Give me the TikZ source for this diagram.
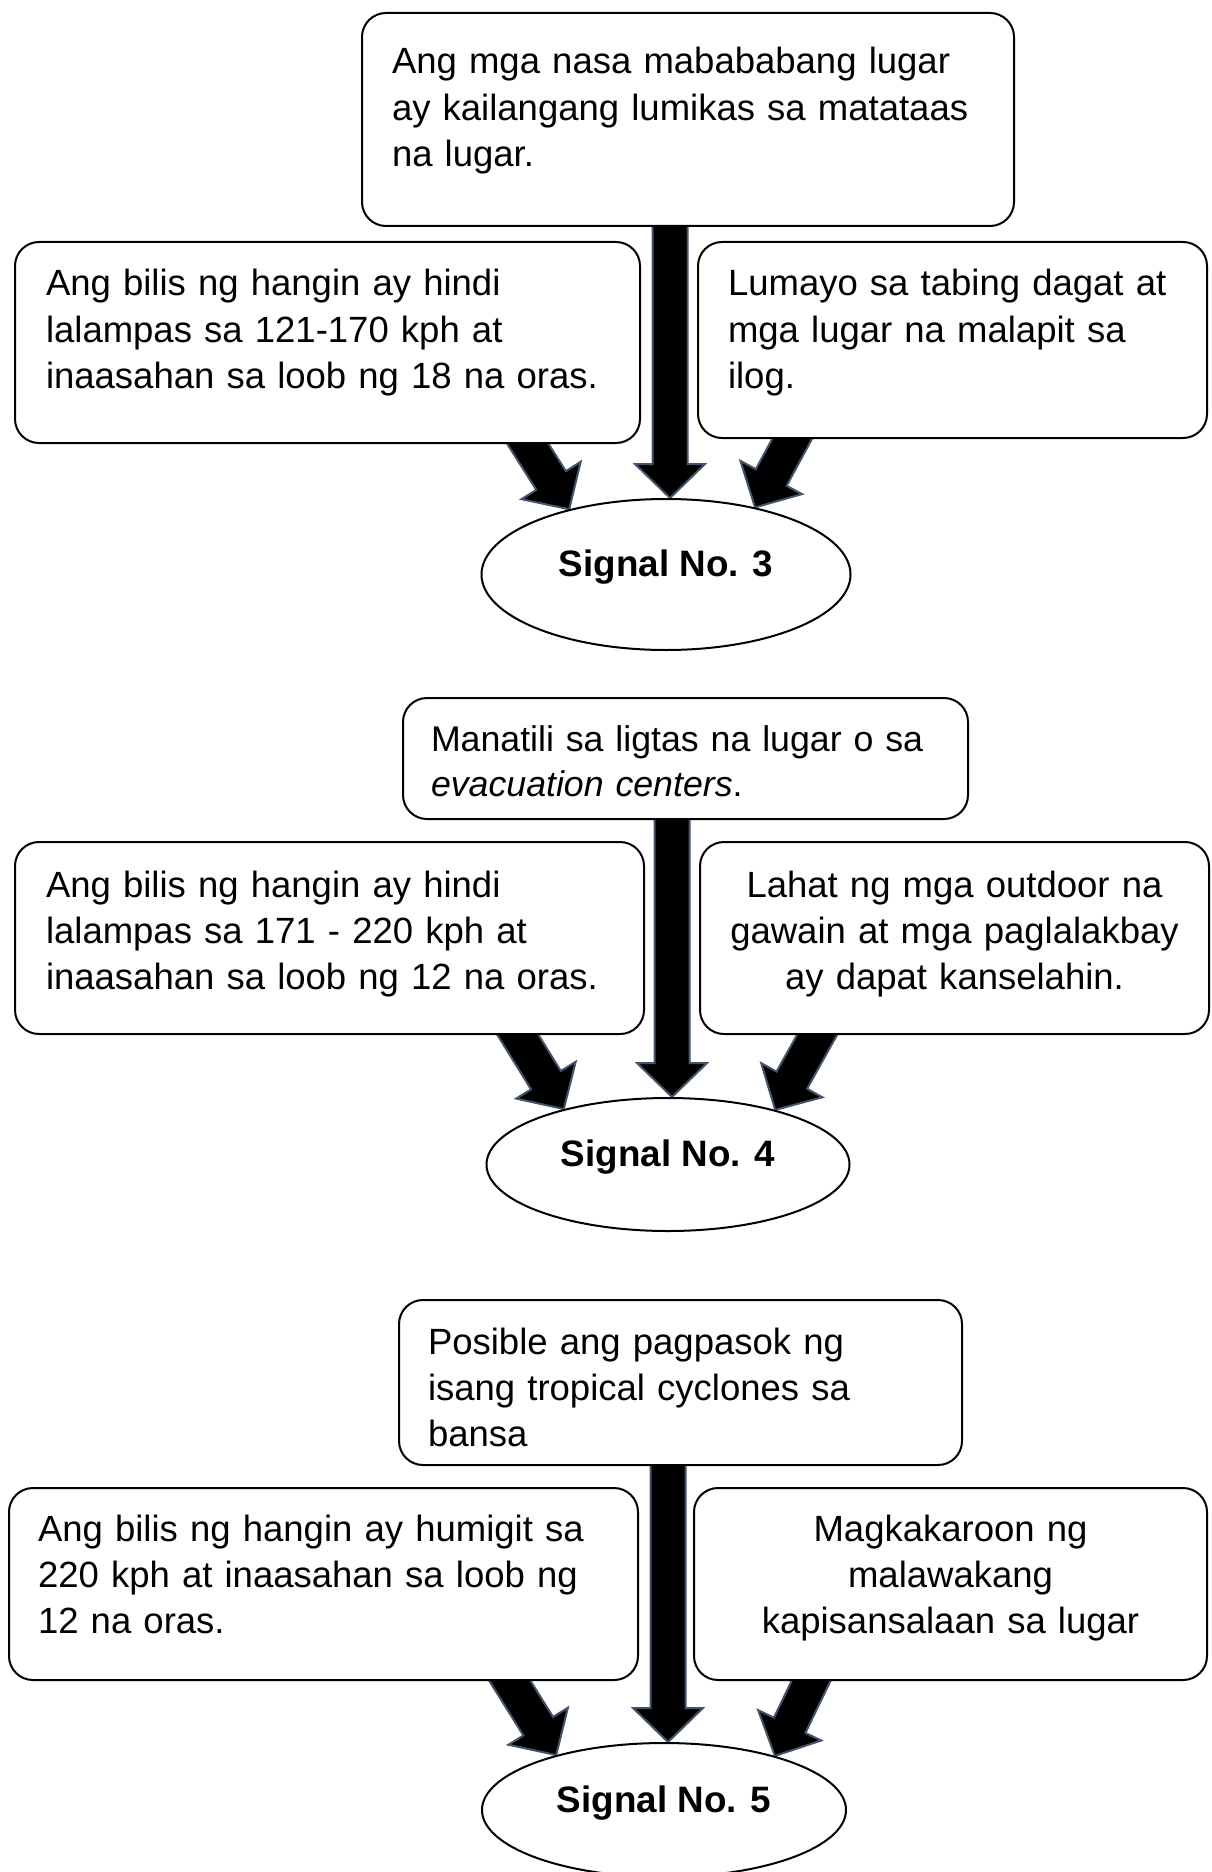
\documentclass[tikz,border=0pt]{standalone}
\usepackage{fontspec}
\setmainfont{Liberation Sans}
\usetikzlibrary{shapes,calc}
\definecolor{arrowedge}{HTML}{44546A}
\pgfdeclarelayer{background}
\pgfsetlayers{background,main}
% block arrow from #1 (tail) to #2 (tip), drawn behind the boxes
\newcommand{\bigarrow}[2]{%
  \begin{pgfonlayer}{background}
  \coordinate (ba-t) at ($(#1)!-10pt!(#2)$);
  \coordinate (ba-n) at ($(#2)!17pt!(#1)$);
  \filldraw[arrowbody] ($(ba-t)!8.75pt!90:(#2)$) -- ($(ba-n)!8.75pt!90:(#2)$)
    -- ($(ba-n)!17.5pt!90:(#2)$) -- (#2) -- ($(ba-n)!17.5pt!-90:(#2)$)
    -- ($(ba-n)!8.75pt!-90:(#2)$) -- ($(ba-t)!8.75pt!-90:(#2)$) -- cycle;
  \end{pgfonlayer}}

\begin{document}
\begin{tikzpicture}[x=0.5pt,y=-0.5pt]
\tikzstyle{box}=[
  draw, line width=1pt, fill=white,
  rounded corners=12pt,
  anchor=north west, inner ysep=0pt,
  align=left, font=\fontsize{18.25}{23.2}\selectfont ]
\tikzstyle{signal}=[
  draw, line width=1pt, fill=white, ellipse,
  inner sep=0pt, text height=8pt, text depth=6pt,
  font=\bfseries\fontsize{18.4}{22}\selectfont ]
\tikzstyle{arrowbody}=[fill=black, draw=arrowedge, line width=1pt, line join=miter]
\useasboundingbox (0,0) rectangle (1211,1872);

% Signal No. 3
\node[box, inner xsep=15pt, text width=296pt, text height=30.5pt, text depth=76pt] (t3) at (361,12)
  {Ang mga nasa mabababang lugar\\ay kailangang lumikas sa matataas\\na lugar.};
\node[box, inner xsep=15.5pt, text width=281.5pt, text height=27pt, text depth=73.5pt] (l3) at (14,241)
  {Ang bilis ng hangin ay hindi\\lalampas sa 121-170 kph at\\inaasahan sa loob ng 18 na oras.};
\node[box, inner xsep=15pt, text width=224.5pt, text height=27pt, text depth=71pt] (r3) at (697,241)
  {Lumayo sa tabing dagat at\\mga lugar na malapit sa\\ilog.};
\node[signal, minimum width=184.5pt, minimum height=75.5pt] (e3) at (666,574.5) {Signal No. 3};
\coordinate (c3) at ($(e3.north)+(4,0)$);
\coordinate (c3t) at (c3 |- t3.south);
\bigarrow{c3t}{c3}
\bigarrow{$(l3.south east)+(-113,0)$}{e3.146}
\bigarrow{$(r3.south west)+(95,0)$}{e3.37}

% Signal No. 4
\node[box, inner xsep=14pt, text width=254.5pt, text height=26.5pt, text depth=34pt,
  font=\fontsize{17.85}{22.6}\selectfont] (t4) at (402,697)
  {Manatili sa ligtas na lugar o sa\\\textit{evacuation centers}.};
\node[box, inner xsep=15.5pt, text width=283.5pt, text height=27.5pt, text depth=68.5pt] (l4) at (14,841)
  {Ang bilis ng hangin ay hindi\\lalampas sa 171 - 220 kph at\\inaasahan sa loob ng 12 na oras.};
\node[box, align=center, inner xsep=10pt, text width=234.5pt, text height=27.5pt, text depth=68.5pt] (r4) at (699,841)
  {Lahat ng mga outdoor na\\gawain at mga paglalakbay\\ay dapat kanselahin.};
\node[signal, minimum width=181.5pt, minimum height=66.5pt] (e4) at (668,1164.5) {Signal No. 4};
\coordinate (c4) at ($(e4.north)+(4,0)$);
\coordinate (c4t) at (c4 |- t4.south);
\bigarrow{c4t}{c4}
\bigarrow{$(l4.south east)+(-127,0)$}{e4.152}
\bigarrow{$(r4.south west)+(118,0)$}{e4.27}

% Signal No. 5
\node[box, inner xsep=14.5pt, text width=252.5pt, text height=27pt, text depth=55.5pt] (t5) at (398,1299)
  {Posible ang pagpasok ng\\isang tropical cyclones sa\\bansa};
\node[box, inner xsep=14.5pt, text width=285.5pt, text height=26.5pt, text depth=69.5pt] (l5) at (8,1487)
  {Ang bilis ng hangin ay humigit sa\\220 kph at inaasahan sa loob ng\\12 na oras.};
\node[box, align=center, inner xsep=10pt, text width=236.5pt, text height=26.5pt, text depth=69.5pt] (r5) at (693,1487)
  {Magkakaroon ng\\malawakang\\kapisansalaan sa lugar};
\node[signal, minimum width=182pt, minimum height=67pt] (e5) at (664,1810) {Signal No. 5};
\coordinate (c5) at ($(e5.north)+(4,0)$);
\coordinate (c5t) at (c5 |- t5.south);
\bigarrow{c5t}{c5}
\bigarrow{$(l5.south east)+(-129,0)$}{e5.153}
\bigarrow{$(r5.south west)+(118,0)$}{e5.26}
\end{tikzpicture}
\end{document}
